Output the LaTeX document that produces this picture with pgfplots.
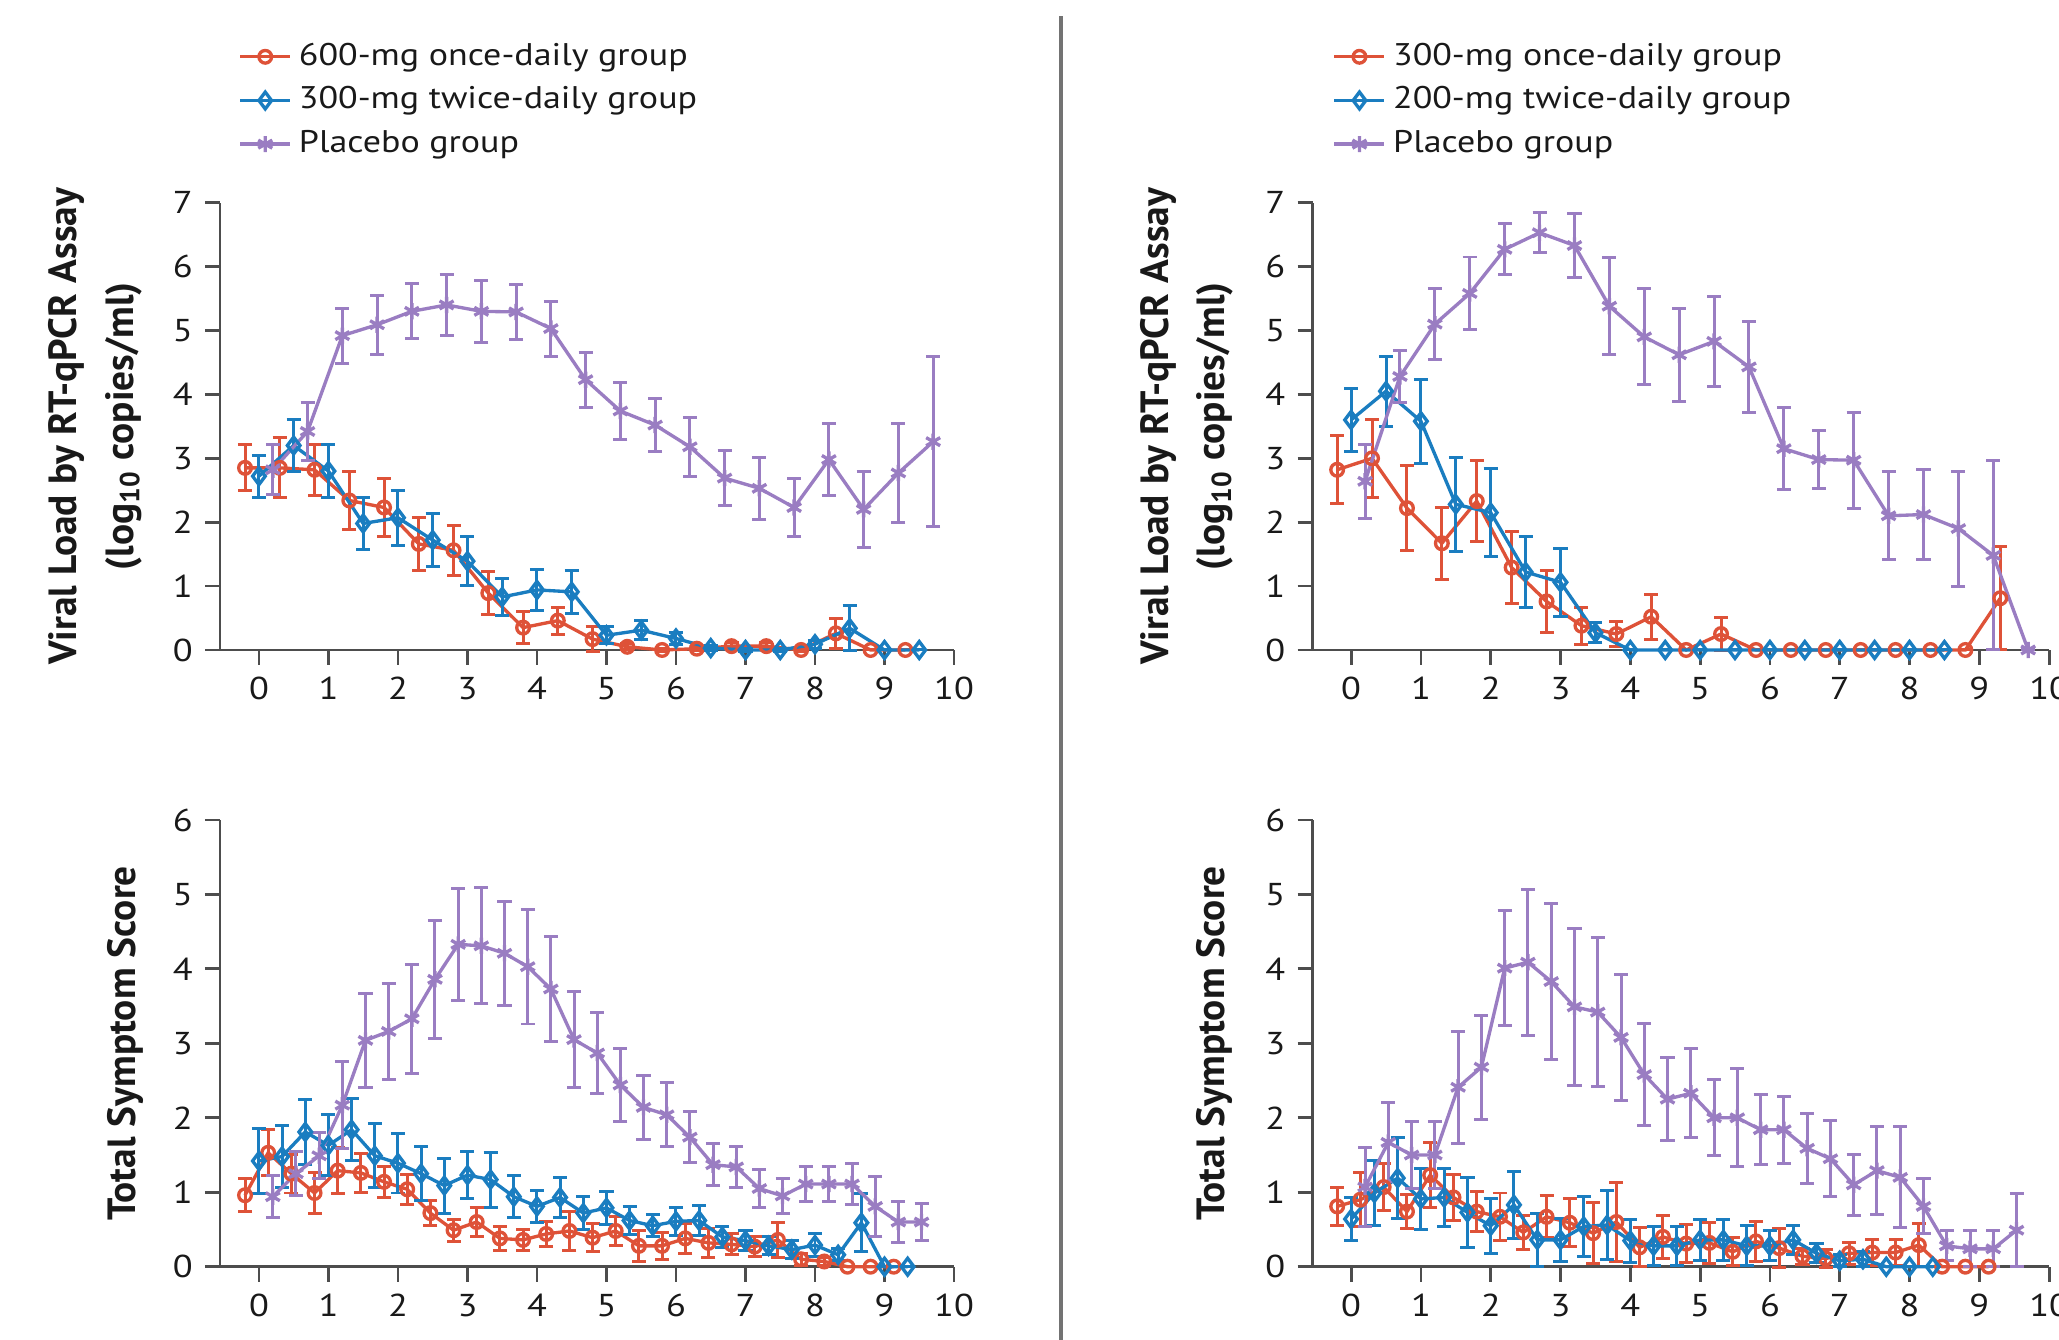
\documentclass[border=0pt]{standalone}
\usepackage{fontspec}
\setmainfont[FakeStretch=1.15]{PT Sans}
\newfontfamily\labfont{PT Sans}
\usepackage{pgfplots}
\pgfplotsset{compat=1.18}

\definecolor{cRed}{HTML}{DE5238}
\definecolor{cBlue}{HTML}{1A7DC0}
\definecolor{cPurp}{HTML}{9A7DC2}
\definecolor{cAx}{HTML}{4D4D4D}

% columns: day, mean, error
\pgfplotstableread{
-0.2 2.85 0.36
0.3 2.85 0.47
0.8 2.82 0.40
1.3 2.34 0.45
1.8 2.23 0.46
2.3 1.66 0.42
2.8 1.56 0.39
3.3 0.89 0.34
3.8 0.35 0.25
4.3 0.46 0.21
4.8 0.17 0.20
5.3 0.05 0.05
5.8 0.00 0.02
6.3 0.02 0.03
6.8 0.06 0.05
7.3 0.06 0.05
7.8 0.00 0.02
8.3 0.26 0.24
8.8 0.00 0.00
9.3 0.00 0.00
}\tlred
\pgfplotstableread{
0.0 2.72 0.33
0.5 3.20 0.41
1.0 2.80 0.41
1.5 1.98 0.40
2.0 2.07 0.43
2.5 1.72 0.42
3.0 1.39 0.38
3.5 0.83 0.29
4.0 0.94 0.32
4.5 0.91 0.34
5.0 0.23 0.13
5.5 0.31 0.15
6.0 0.18 0.10
6.5 0.03 0.04
7.0 0.00 0.02
7.5 0.00 0.02
8.0 0.09 0.06
8.5 0.34 0.35
9.0 0.00 0.00
9.5 0.00 0.00
}\tlblue
\pgfplotstableread{
0.2 2.82 0.39
0.7 3.42 0.46
1.2 4.92 0.43
1.7 5.09 0.46
2.2 5.30 0.43
2.7 5.40 0.48
3.2 5.30 0.49
3.7 5.29 0.43
4.2 5.03 0.43
4.7 4.23 0.43
5.2 3.74 0.44
5.7 3.52 0.42
6.2 3.18 0.46
6.7 2.69 0.43
7.2 2.53 0.49
7.7 2.23 0.46
8.2 2.98 0.57
8.7 2.20 0.60
9.2 2.77 0.77
9.7 3.26 1.33
}\tlpurp
\pgfplotstableread{
-0.2 2.82 0.53
0.3 3.00 0.61
0.8 2.22 0.66
1.3 1.67 0.56
1.8 2.33 0.63
2.3 1.29 0.56
2.8 0.76 0.48
3.3 0.38 0.29
3.8 0.25 0.20
4.3 0.52 0.35
4.8 0.00 0.00
5.3 0.25 0.26
5.8 0.00 0.00
6.3 0.00 0.00
6.8 0.00 0.00
7.3 0.00 0.00
7.8 0.00 0.00
8.3 0.00 0.00
8.8 0.00 0.00
9.3 0.81 0.81
}\trred
\pgfplotstableread{
0.0 3.60 0.49
0.5 4.05 0.55
1.0 3.58 0.66
1.5 2.28 0.74
2.0 2.15 0.69
2.5 1.22 0.55
3.0 1.06 0.53
3.5 0.27 0.16
4.0 0.00 0.00
4.5 0.00 0.00
5.0 0.00 0.00
5.5 0.00 0.00
6.0 0.00 0.00
6.5 0.00 0.00
7.0 0.00 0.00
7.5 0.00 0.00
8.0 0.00 0.00
8.5 0.00 0.00
}\trblue
\pgfplotstableread{
0.2 2.64 0.58
0.7 4.28 0.41
1.2 5.10 0.55
1.7 5.58 0.57
2.2 6.27 0.40
2.7 6.53 0.31
3.2 6.33 0.50
3.7 5.38 0.76
4.2 4.90 0.75
4.7 4.62 0.73
5.2 4.83 0.70
5.7 4.43 0.71
6.2 3.15 0.64
6.7 2.98 0.46
7.2 2.97 0.75
7.7 2.10 0.69
8.2 2.12 0.71
8.7 1.90 0.90
9.2 1.48 1.48
9.7 0.00 0.00
}\trpurp
\pgfplotstableread{
-0.2 0.96 0.22
0.133 1.53 0.31
0.467 1.25 0.26
0.8 0.99 0.27
1.133 1.29 0.31
1.467 1.26 0.26
1.8 1.14 0.21
2.133 1.04 0.20
2.467 0.72 0.17
2.8 0.49 0.15
3.133 0.60 0.19
3.467 0.38 0.16
3.8 0.36 0.14
4.133 0.44 0.17
4.467 0.48 0.26
4.8 0.39 0.19
5.133 0.48 0.20
5.467 0.28 0.21
5.8 0.28 0.18
6.133 0.38 0.20
6.467 0.32 0.19
6.8 0.30 0.14
7.133 0.27 0.13
7.467 0.36 0.23
7.8 0.10 0.08
8.133 0.07 0.05
8.467 0.00 0.00
8.8 0.00 0.00
9.133 0.00 0.00
}\blred
\pgfplotstableread{
0.0 1.42 0.44
0.333 1.48 0.41
0.667 1.81 0.44
1.0 1.63 0.41
1.333 1.84 0.42
1.667 1.49 0.43
2.0 1.39 0.40
2.333 1.25 0.36
2.667 1.09 0.37
3.0 1.23 0.32
3.333 1.17 0.37
3.667 0.94 0.28
4.0 0.81 0.22
4.333 0.93 0.27
4.667 0.72 0.22
5.0 0.79 0.22
5.333 0.62 0.19
5.667 0.55 0.15
6.0 0.61 0.19
6.333 0.62 0.20
6.667 0.40 0.14
7.0 0.35 0.13
7.333 0.28 0.12
7.667 0.23 0.12
8.0 0.29 0.15
8.333 0.16 0.08
8.667 0.59 0.39
9.0 0.00 0.00
9.333 0.00 0.00
}\blblue
\pgfplotstableread{
0.2 0.94 0.28
0.533 1.25 0.30
0.867 1.49 0.31
1.2 2.17 0.58
1.533 3.04 0.63
1.867 3.16 0.64
2.2 3.33 0.73
2.533 3.86 0.79
2.867 4.33 0.75
3.2 4.31 0.78
3.533 4.21 0.70
3.867 4.03 0.77
4.2 3.73 0.71
4.533 3.05 0.64
4.867 2.87 0.55
5.2 2.44 0.49
5.533 2.14 0.43
5.867 2.04 0.43
6.2 1.74 0.34
6.533 1.37 0.28
6.867 1.34 0.27
7.2 1.05 0.26
7.533 0.95 0.24
7.867 1.11 0.23
8.2 1.11 0.24
8.533 1.11 0.28
8.867 0.81 0.40
9.2 0.60 0.27
9.533 0.60 0.25
}\blpurp
\pgfplotstableread{
-0.2 0.81 0.25
0.133 0.90 0.36
0.467 1.07 0.32
0.8 0.74 0.23
1.133 1.23 0.44
1.467 0.93 0.31
1.8 0.74 0.27
2.133 0.67 0.32
2.467 0.46 0.23
2.8 0.67 0.28
3.133 0.59 0.32
3.467 0.45 0.41
3.8 0.60 0.53
4.133 0.26 0.26
4.467 0.40 0.29
4.8 0.31 0.26
5.133 0.32 0.28
5.467 0.20 0.19
5.8 0.34 0.27
6.133 0.25 0.26
6.467 0.14 0.11
6.8 0.11 0.12
7.133 0.18 0.15
7.467 0.19 0.17
7.8 0.19 0.17
8.133 0.29 0.29
8.467 0.00 0.00
8.8 0.00 0.00
9.133 0.00 0.00
}\brred
\pgfplotstableread{
0.0 0.64 0.29
0.333 0.99 0.44
0.667 1.19 0.54
1.0 0.91 0.41
1.333 0.93 0.39
1.667 0.73 0.47
2.0 0.55 0.37
2.333 0.83 0.45
2.667 0.36 0.36
3.0 0.36 0.29
3.333 0.54 0.40
3.667 0.56 0.46
4.0 0.35 0.29
4.333 0.28 0.26
4.667 0.28 0.26
5.0 0.36 0.28
5.333 0.36 0.28
5.667 0.28 0.27
6.0 0.28 0.20
6.333 0.36 0.20
6.667 0.18 0.13
7.0 0.08 0.08
7.333 0.10 0.10
7.667 0.00 0.00
8.0 0.00 0.00
8.333 0.00 0.00
}\brblue
\pgfplotstableread{
0.2 1.07 0.53
0.533 1.67 0.53
0.867 1.50 0.45
1.2 1.50 0.45
1.533 2.41 0.75
1.867 2.68 0.70
2.2 4.01 0.77
2.533 4.09 0.98
2.867 3.83 1.05
3.2 3.49 1.05
3.533 3.42 1.00
3.867 3.08 0.85
4.2 2.58 0.69
4.533 2.25 0.56
4.867 2.33 0.60
5.2 2.00 0.51
5.533 2.00 0.66
5.867 1.84 0.47
6.2 1.84 0.45
6.533 1.59 0.47
6.867 1.45 0.51
7.2 1.10 0.41
7.533 1.29 0.59
7.867 1.20 0.68
8.2 0.81 0.37
8.533 0.28 0.20
8.867 0.24 0.24
9.2 0.24 0.24
9.533 0.49 0.49
}\brpurp

\pgfplotsset{
  panel/.style={
    scale only axis, clip=false,
    axis x line*=bottom, axis y line*=left,
    axis line style={cAx, line width=0.8pt},
    every tick/.style={cAx, line width=0.8pt},
    tick align=outside, major tick length=0.15cm,
    xmin=-0.56, xmax=10, xtick={0,...,10}, ymin=0,
    tick label style={font=\fontsize{9}{10}\selectfont, text=black!90},
    /pgf/number format/assume math mode=true,
    ylabel style={font=\labfont\bfseries\fontsize{11.2}{16}\selectfont, align=center, anchor=center, text=black!90},
    legend style={draw=none, fill=none, font=\fontsize{8.9}{10}\selectfont, anchor=north west, row sep=0.6pt, text=black!90},
    legend cell align=left,
    legend image code/.code={\draw[mark repeat=2,mark phase=2] plot coordinates {(0cm,0cm)(0.25cm,0cm)(0.5cm,0cm)};},
  },
  eb/.style={error bars/y dir=both, error bars/y explicit,
    error bars/error bar style={line width=0.85pt},
    error bars/error mark options={rotate=90, mark size=2pt, line width=0.85pt}},
  sred/.style={cRed, line width=0.95pt, mark=o, mark size=1.8pt},
  sblue/.style={cBlue, line width=0.95pt, mark=diamond, mark size=2.4pt},
  spurp/.style={cPurp, line width=0.95pt, mark=asterisk, mark size=2.3pt},
}

\begin{document}
\begin{tikzpicture}
% top left
\begin{axis}[panel, at={(2.20cm,6.90cm)}, anchor=south west,
  width=7.34cm, height=4.473cm, ymax=7, ytick={0,...,7},
  ylabel={Viral Load by RT-qPCR Assay\\(log\textsubscript{10} copies/ml)},
  ylabel style={at={(axis description cs:-0.170,0.5)}},
  legend style={at={(axis description cs:0.01,1.39)}}]
\addplot[sred, eb] table[x index=0, y index=1, y error index=2] {\tlred};
\addplot[sblue, eb] table[x index=0, y index=1, y error index=2] {\tlblue};
\addplot[spurp, eb] table[x index=0, y index=1, y error index=2] {\tlpurp};
\legend{600-mg once-daily group, 300-mg twice-daily group, Placebo group}
\end{axis}
% top right
\begin{axis}[panel, at={(13.127cm,6.90cm)}, anchor=south west,
  width=7.364cm, height=4.473cm, xmin=-0.55, ymax=7, ytick={0,...,7},
  ylabel={Viral Load by RT-qPCR Assay\\(log\textsubscript{10} copies/ml)},
  ylabel style={at={(axis description cs:-0.171,0.5)}},
  legend style={at={(axis description cs:0.012,1.39)}}]
\addplot[sred, eb] table[x index=0, y index=1, y error index=2] {\trred};
\addplot[sblue, eb] table[x index=0, y index=1, y error index=2] {\trblue};
\addplot[spurp, eb] table[x index=0, y index=1, y error index=2] {\trpurp};
\legend{300-mg once-daily group, 200-mg twice-daily group, Placebo group}
\end{axis}
% bottom left
\begin{axis}[panel, at={(2.20cm,0.733cm)}, anchor=south west,
  width=7.34cm, height=4.467cm, ymax=6, ytick={0,...,6},
  ylabel={Total Symptom Score},
  ylabel style={at={(axis description cs:-0.129,0.5)}}]
\addplot[sred, eb] table[x index=0, y index=1, y error index=2] {\blred};
\addplot[sblue, eb] table[x index=0, y index=1, y error index=2] {\blblue};
\addplot[spurp, eb] table[x index=0, y index=1, y error index=2] {\blpurp};
\end{axis}
% bottom right
\begin{axis}[panel, at={(13.127cm,0.733cm)}, anchor=south west,
  width=7.364cm, height=4.467cm, xmin=-0.55, ymax=6, ytick={0,...,6},
  ylabel={Total Symptom Score},
  ylabel style={at={(axis description cs:-0.134,0.5)}}]
\addplot[sred, eb] table[x index=0, y index=1, y error index=2] {\brred};
\addplot[sblue, eb] table[x index=0, y index=1, y error index=2] {\brblue};
\addplot[spurp, eb] table[x index=0, y index=1, y error index=2] {\brpurp};
\end{axis}
% divider between the two columns
\draw[color=black!55, line width=1.1pt] (10.61,0) -- (10.61,13.24);
\pgfresetboundingbox
\useasboundingbox (0,0) rectangle (20.59,13.40);
\end{tikzpicture}
\end{document}
